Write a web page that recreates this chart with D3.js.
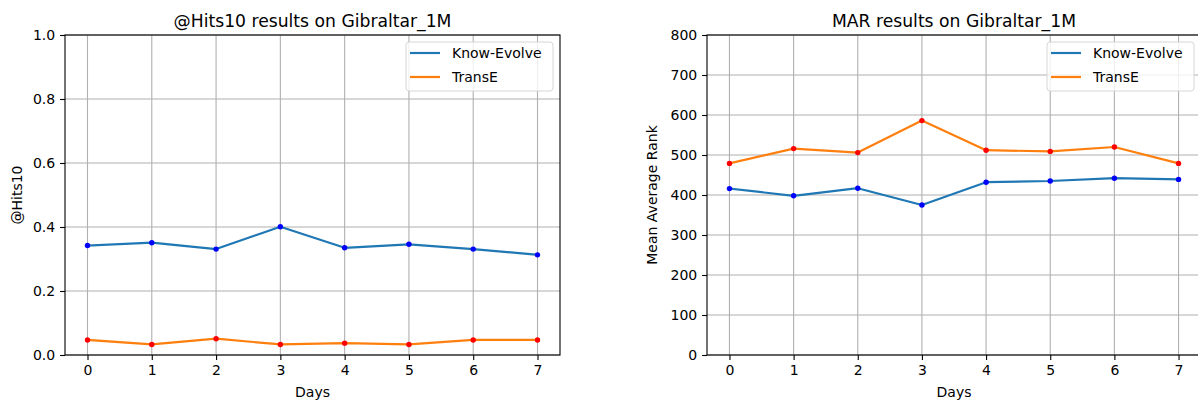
<!DOCTYPE html>
<html><head><meta charset="utf-8">
<script src="https://cdn.jsdelivr.net/npm/d3@7"></script>
<style>
html,body{margin:0;padding:0;background:#fff;}
svg text{font-family:"DejaVu Sans",sans-serif;fill:#000;}
</style></head>
<body><svg id="c" width="1198" height="403"></svg>
<script>
const days = [0,1,2,3,4,5,6,7];
const seriesNames = ["Know-Evolve","TransE"];
const hitsKnowEvolve = [0.342,0.351,0.331,0.401,0.335,0.346,0.331,0.313];
const hitsTransE = [0.047,0.033,0.051,0.033,0.037,0.033,0.047,0.047];
const marKnowEvolve = [416,398,417,375,432,435,442,439];
const marTransE = [479,516,506,586,512,509,520,479];
const hitsTicks = [0,0.2,0.4,0.6,0.8,1.0];
const marTicks = [0,100,200,300,400,500,600,700,800];

const svg = d3.select("#c");
const FS = 14;

function panel(opt){
  const {x0,x1,y0,y1,title,ylabel,yDomain,yTicks,yFmt,series,ylabelX} = opt;
  const g = svg.append("g");
  const x = d3.scaleLinear().domain([-0.35,7.35]).range([x0,x1]);
  const y = d3.scaleLinear().domain(yDomain).range([y1,y0]);
  // grid
  g.append("g").selectAll("line").data(days).join("line")
    .attr("x1",d=>x(d)).attr("x2",d=>x(d)).attr("y1",y0).attr("y2",y1)
    .attr("stroke","#b0b0b0").attr("stroke-width",1.1);
  g.append("g").selectAll("line").data(yTicks).join("line")
    .attr("x1",x0).attr("x2",x1).attr("y1",d=>y(d)).attr("y2",d=>y(d))
    .attr("stroke","#b0b0b0").attr("stroke-width",1.1);
  // axes
  const xa = g.append("g").attr("transform",`translate(0,${y1})`)
    .call(d3.axisBottom(x).tickValues(days).tickFormat(d3.format("d")).tickSize(4.9).tickPadding(4.9));
  const ya = g.append("g").attr("transform",`translate(${x0},0)`)
    .call(d3.axisLeft(y).tickValues(yTicks).tickFormat(yFmt).tickSize(4.9).tickPadding(4.9));
  [xa,ya].forEach(a=>{
    a.select(".domain").remove();
    a.selectAll("line").attr("stroke","#000").attr("stroke-width",1.1);
    a.selectAll("text").attr("font-size",FS).attr("font-family","DejaVu Sans").attr("fill","#000");
  });
  // spines
  g.append("rect").attr("x",x0).attr("y",y0).attr("width",x1-x0).attr("height",y1-y0)
    .attr("fill","none").attr("stroke","#000").attr("stroke-width",1.1);
  // lines
  const line = d3.line().x((d,i)=>x(days[i])).y(d=>y(d));
  series.forEach(s=>{
    g.append("path").datum(s.values).attr("d",line).attr("fill","none")
      .attr("stroke",s.color).attr("stroke-width",2.2).attr("stroke-linejoin","round").attr("stroke-linecap","square");
  });
  series.forEach(s=>{
    g.append("g").selectAll("circle").data(s.values).join("circle")
      .attr("cx",(d,i)=>x(days[i])).attr("cy",d=>y(d)).attr("r",2.7).attr("fill",s.marker);
  });
  // title & labels
  g.append("text").attr("x",(x0+x1)/2).attr("y",y0-8).attr("text-anchor","middle")
    .attr("font-size",17.2).text(title);
  g.append("text").attr("x",(x0+x1)/2).attr("y",397).attr("text-anchor","middle")
    .attr("font-size",FS).text("Days");
  g.append("text").attr("transform",`translate(${ylabelX},${(y0+y1)/2}) rotate(-90)`)
    .attr("text-anchor","middle").attr("font-size",FS).text(ylabel);
  // legend
  const lw=147, lh=49, lx=x1-7-lw, ly=y0+7;
  const lg = g.append("g");
  lg.append("rect").attr("x",lx).attr("y",ly).attr("width",lw).attr("height",lh).attr("rx",3)
    .attr("fill","rgba(255,255,255,0.8)").attr("stroke","#d6d6d6").attr("stroke-width",1);
  series.forEach((s,i)=>{
    const cy = ly+11+i*24;
    lg.append("line").attr("x1",lx+4).attr("x2",lx+34).attr("y1",cy).attr("y2",cy)
      .attr("stroke",s.color).attr("stroke-width",2.2);
    lg.append("text").attr("x",lx+46).attr("y",cy).attr("dy","0.35em").attr("font-size",FS).text(s.name);
  });
}

panel({x0:65,x1:560,y0:35,y1:355,title:"@Hits10 results on Gibraltar_1M",ylabel:"@Hits10",
  yDomain:[0,1],yTicks:hitsTicks,yFmt:d3.format(".1f"),ylabelX:22,
  series:[{name:seriesNames[0],values:hitsKnowEvolve,color:"#1f77b4",marker:"#0000ff"},
          {name:seriesNames[1],values:hitsTransE,color:"#ff7f0e",marker:"#ff0000"}]});
panel({x0:707,x1:1201,y0:35,y1:355,title:"MAR results on Gibraltar_1M",ylabel:"Mean Average Rank",
  yDomain:[0,800],yTicks:marTicks,yFmt:d3.format("d"),ylabelX:657,
  series:[{name:seriesNames[0],values:marKnowEvolve,color:"#1f77b4",marker:"#0000ff"},
          {name:seriesNames[1],values:marTransE,color:"#ff7f0e",marker:"#ff0000"}]});
</script></body></html>
